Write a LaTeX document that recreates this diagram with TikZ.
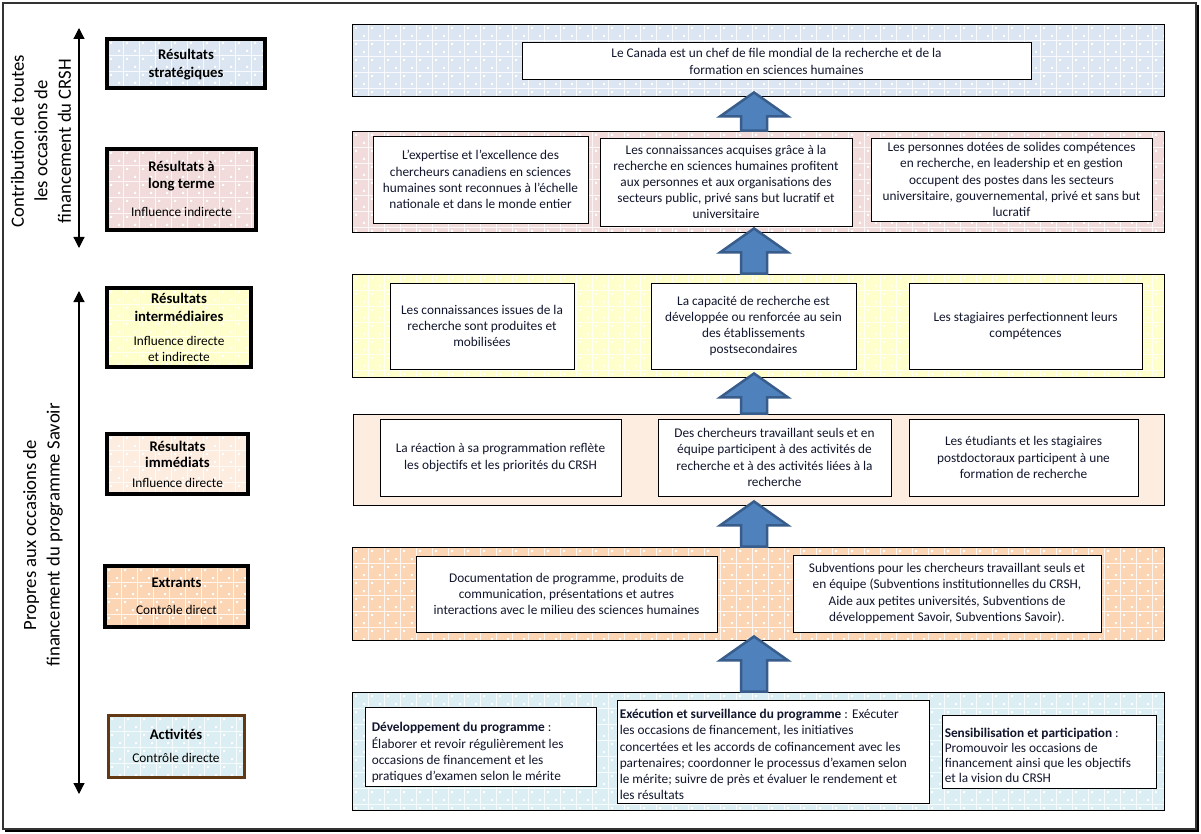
\documentclass[tikz,border=0pt]{standalone}
\usepackage{fontspec}
\setmainfont{Carlito}
\usetikzlibrary{arrows.meta,calc,fit}
\definecolor{txt}{RGB}{18,22,44}
\definecolor{cStrat}{RGB}{220,230,242}
\definecolor{cLong}{RGB}{242,220,219}
\definecolor{cInter}{RGB}{255,255,204}
\definecolor{cImm}{RGB}{253,236,224}
\definecolor{cExt}{RGB}{252,213,181}
\definecolor{cAct}{RGB}{218,238,243}
\definecolor{brownb}{RGB}{99,57,20}
\definecolor{arrfill}{RGB}{79,129,189}
\definecolor{arrdraw}{RGB}{56,93,138}
\newcommand\boxfont{\fontsize{13.3pt}{16.2pt}\selectfont}
\newcommand\labfont{\fontsize{14.7pt}{17.5pt}\selectfont}
\newcommand\subfont{\fontsize{13.3pt}{16pt}\selectfont}
\newcommand\titfont{\fontsize{18.7pt}{23.5pt}\selectfont}
\newcommand\patfill[5]{%
  \fill[#5] (#1,#2) rectangle (#3,#4);
  \begin{scope}
    \clip (#1,#2) rectangle (#3,#4);
    \pgfmathtruncatemacro\nx{(#3-#1)/16+1}%
    \pgfmathtruncatemacro\ny{(#4-#2)/16+1}%
    \draw[patline] \foreach \i in {0,...,\nx}{(#1+\i*16,#2) -- (#1+\i*16,#4)}
                   \foreach \j in {0,...,\ny}{(#1,#2+\j*16) -- (#3,#2+\j*16)};
    \fill[white] \foreach \j in {0,...,\ny}{\foreach \i in {0,...,\nx}{
        (#1+\i*16+3,#2+\j*16+3) rectangle ++(2,2)
        (#1+\i*16+11,#2+\j*16+11) rectangle ++(2,2)}};
  \end{scope}}
\newcommand\blockarrow[2]{%
  \path[blk] let \p1=(#1.south -| ax), \p2=(#2.north -| ax) in
    (\x1,\y1+4pt) -- (\x1+34pt,\y1-20pt) -- (\x1+13pt,\y1-20pt) -- (\x1+13pt,\y2)
    -- (\x1-13pt,\y2) -- (\x1-13pt,\y1-20pt) -- (\x1-34pt,\y1-20pt) -- cycle;}
\begin{document}
\begin{tikzpicture}[x=1pt,y=-1pt,
  band/.style={draw=black, line width=0.9pt, inner sep=0pt},
  wbox/.style={draw=black, line width=0.9pt, fill=white, inner sep=0pt},
  btext/.style={inner sep=0pt, text=txt, font=\boxfont, align=center},
  atext/.style={inner sep=0pt, text=txt, font=\boxfont, align=left, anchor=west},
  lbox/.style={draw=black, line width=3.5pt, inner sep=0pt},
  ltext/.style={inner sep=0pt, align=center, font=\labfont, text=black},
  title/.style={font=\titfont, align=center, text=black},
  dbl/.style={line width=1.2pt, {Triangle[width=11pt,length=11pt]}-{Triangle[width=11pt,length=11pt]}},
  patline/.style={white, line width=0.7pt, opacity=0.8},
  blk/.style={fill=arrfill, draw=arrdraw, line width=2.5pt, line join=miter}
]
\useasboundingbox (0,0) rectangle (1201,834);
\fill[white] (0,0) rectangle (1201,834);
\draw[line width=2pt, black!80] (3,3) rectangle (1196,829);
\draw[line width=2pt, black] (1198,5) -- (1198,831) -- (5,831);

% titles
\node[title, rotate=90] (t1) at (41,141) {Contribution de toutes\\les occasions de\\financement du CRSH};
\node[title, rotate=90] (t2) at (43,535) {Propres aux occasions de\\financement du programme Savoir};
\coordinate (la1t) at (79,28); \coordinate (la1b) at (79,248);
\coordinate (la2t) at (79,291); \coordinate (la2b) at (79,794);
\draw[dbl] (la1t) -- (la1b);
\draw[dbl] (la2t) -- (la2b);

% left label boxes
\patfill{107}{39}{265}{88}{cStrat}
\node[lbox, fit={(107,39) (265,88)}] (l1) {};
\node[ltext] (l1t) at ($(l1.center)+(0,1)$) {\textbf{Résultats}\\\textbf{stratégiques}};
\patfill{107}{149}{256}{230}{cLong}
\node[lbox, fit={(107,149) (256,230)}] (l2) {};
\node[ltext] (l2t) at ($(l2.center)+(0,-1)$) {\textbf{Résultats à}\\\textbf{long terme}\\[10pt]{\subfont Influence indirecte}};
\patfill{107}{288}{251}{367}{cInter}
\node[lbox, fit={(107,288) (251,367)}] (l3) {};
\node[ltext] (l3t) at (l3.center) {\textbf{Résultats}\\\textbf{intermédiaires}\\[7pt]{\subfont Influence directe}\\[-1.5pt]{\subfont et indirecte}};
\patfill{107}{434}{248}{494}{cImm}
\node[lbox, fit={(107,434) (248,494)}] (l4) {};
\node[ltext] (l4t) at (l4.center) {\textbf{Résultats}\\[-1pt]\textbf{immédiats}\\[2pt]{\subfont Influence directe}};
\patfill{105}{566}{248}{627}{cExt}
\node[lbox, fit={(105,566) (248,627)}] (l5) {};
\node[ltext] (l5t) at (l5.center) {\textbf{Extrants}\\[9pt]{\subfont Contrôle direct}};
\patfill{108}{715}{244}{777}{cAct}
\node[lbox, draw=brownb, line width=3pt, fit={(108,715) (244,777)}] (l6) {};
\node[ltext] (l6t) at (l6.center) {\textbf{Activités}\\[6pt]{\subfont Contrôle directe}};

% bands
\patfill{352}{24}{1164}{96}{cStrat}
\node[band, fit={(352,24) (1164,96)}] (b1) {};
\patfill{352}{131}{1164}{232}{cLong}
\node[band, fit={(352,131) (1164,232)}] (b2) {};
\patfill{352}{274}{1164}{377}{cInter}
\node[band, fit={(352,274) (1164,377)}] (b3) {};
\fill[cImm] (353,414) rectangle (1164,505);
\node[band, fit={(353,414) (1164,505)}] (b4) {};
\patfill{352}{547}{1164}{640}{cExt}
\node[band, fit={(352,547) (1164,640)}] (b5) {};
\patfill{352}{692}{1164}{810}{cAct}
\node[band, fit={(352,692) (1164,810)}] (b6) {};

% inner boxes
\node[wbox, fit={(522,42) (1031,79)}] (s1) {};
\node[btext, font=\fontsize{13.3pt}{17pt}\selectfont] (s1t) at ($(s1.center)+(0,1)$) {Le Canada est un chef de file mondial de la recherche et de la\\formation en sciences humaines};

\node[wbox, fit={(373,136) (588,223)}] (g1) {};
\node[btext] (g1t) at (g1.center) {L’expertise et l’excellence des\\chercheurs canadiens en sciences\\humaines sont reconnues à l’échelle\\nationale et dans le monde entier};
\node[wbox, fit={(600,138) (852,226)}] (g2) {};
\node[btext] (g2t) at (g2.center) {Les connaissances acquises grâce à la\\recherche en sciences humaines profitent\\aux personnes et aux organisations des\\secteurs public, privé sans but lucratif et\\universitaire};
\node[wbox, fit={(871,138) (1152,221)}] (g3) {};
\node[btext] (g3t) at (g3.center) {Les personnes dotées de solides compétences\\en recherche, en leadership et en gestion\\occupent des postes dans les secteurs\\universitaire, gouvernemental, privé et sans but\\lucratif};

\node[wbox, fit={(390,283) (574,369)}] (m1) {};
\node[btext] (m1t) at (m1.center) {Les connaissances issues de la\\recherche sont produites et\\mobilisées};
\node[wbox, fit={(651,283) (856,369)}] (m2) {};
\node[btext] (m2t) at (m2.center) {La capacité de recherche est\\développée ou renforcée au sein\\des établissements\\postsecondaires};
\node[wbox, fit={(909,283) (1142,369)}] (m3) {};
\node[btext] (m3t) at (m3.center) {Les stagiaires perfectionnent leurs\\compétences};

\node[wbox, fit={(380,419) (621,496)}] (i1) {};
\node[btext] (i1t) at (i1.center) {La réaction à sa programmation reflète\\les objectifs et les priorités du CRSH};
\node[wbox, fit={(658,419) (891,496)}] (i2) {};
\node[btext] (i2t) at (i2.center) {Des chercheurs travaillant seuls et en\\équipe participent à des activités de\\recherche et à des activités liées à la\\recherche};
\node[wbox, fit={(909,419) (1138,496)}] (i3) {};
\node[btext] (i3t) at (i3.center) {Les étudiants et les stagiaires\\postdoctoraux participent à une\\formation de recherche};

\node[wbox, fit={(416,556) (717,632)}] (e1) {};
\node[btext] (e1t) at (e1.center) {Documentation de programme, produits de\\communication, présentations et autres\\interactions avec le milieu des sciences humaines};
\node[wbox, fit={(793,555) (1101,632)}] (e2) {};
\node[btext] (e2t) at (e2.center) {Subventions pour les chercheurs travaillant seuls et\\en équipe (Subventions institutionnelles du CRSH,\\Aide aux petites universités, Subventions de\\développement Savoir, Subventions Savoir).};

\node[wbox, fit={(365,707) (596,786)}] (a1) {};
\node[atext] (a1t) at ($(a1.west)+(7,6)$) {\textbf{Développement du programme} :\\Élaborer et revoir régulièrement les\\occasions de financement et les\\pratiques d’examen selon le mérite};
\node[wbox, fit={(617,700) (929,803)}] (a2) {};
\node[atext] (a2t) at ($(a2.west)+(3,3)$) {\textbf{Exécution et surveillance du programme} : Exécuter\\les occasions de financement, les initiatives\\concertées et les accords de cofinancement avec les\\partenaires; coordonner le processus d’examen selon\\le mérite; suivre de près et évaluer le rendement et\\les résultats};
\node[wbox, fit={(942,715) (1156,788)}] (a3) {};
\node[atext, font=\fontsize{13.3pt}{15pt}\selectfont] (a3t) at ($(a3.west)+(3,4)$) {\textbf{Sensibilisation et participation} :\\Promouvoir les occasions de\\financement ainsi que les objectifs\\et la vision du CRSH};

% block arrows
\coordinate (ax) at (754,0);
\blockarrow{b1}{b2}
\blockarrow{b2}{b3}
\blockarrow{b3}{b4}
\blockarrow{b4}{b5}
\blockarrow{b5}{b6}
\end{tikzpicture}
\end{document}
